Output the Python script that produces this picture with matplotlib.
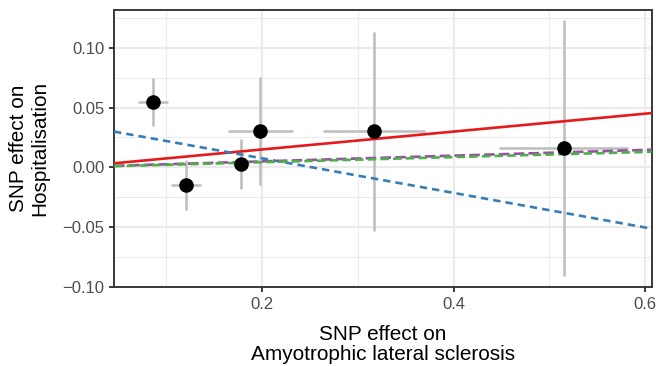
import matplotlib
matplotlib.use("Agg")
import matplotlib.pyplot as plt
from matplotlib.ticker import MultipleLocator

# SNP effects (exposure: ALS, outcome: hospitalisation)
bx = [0.086, 0.121, 0.178, 0.198, 0.317, 0.515]
bx_se = [0.0157, 0.0157, 0.008, 0.034, 0.053, 0.0675]
by = [0.0546, -0.0149, 0.0028, 0.0303, 0.0300, 0.0162]
by_se = [0.0203, 0.021, 0.0213, 0.0452, 0.0832, 0.107]

# MR method fits: intercept, slope, colour, dash pattern
methods = ["IVW", "MR Egger", "Weighted median", "Weighted mode"]
intercepts = [0.0, 0.0365, 0.0002, 0.0]
slopes = [0.0748, -0.1446, 0.024, 0.0215]
colors = ["#E41A1C", "#377EB8", "#984EA3", "#4DAF4A"]
dashes = [None, (2.8, 1.9), (4.0, 1.6), (3.2, 1.6)]

plt.rcParams["font.family"] = ["Liberation Sans", "DejaVu Sans"]

dpi = 136
fig = plt.figure(figsize=(656 / dpi, 366 / dpi), dpi=dpi)
ax = fig.add_axes([114 / 656, 1 - 287.3 / 366, 537.7 / 656, 277.3 / 366])

ax.errorbar(bx, by, xerr=bx_se, yerr=by_se, fmt="none", ecolor="#BEBEBE",
            elinewidth=1.35, capsize=0, zorder=2)

for b0, b1, c, d in zip(intercepts, slopes, colors, dashes):
    ln = ax.axline((0, b0), slope=b1, color=c, lw=1.4, zorder=3)
    if d is not None:
        ln.set_dashes(d)

ax.plot(bx, by, "o", color="black", markersize=6.7, zorder=4)

ax.set_xlim(0.0454, 0.607)
ax.set_ylim(-0.1003, 0.1316)

ax.xaxis.set_minor_locator(MultipleLocator(0.1))
ax.yaxis.set_minor_locator(MultipleLocator(0.025))
ax.set_xticks([0.2, 0.4, 0.6])
ax.set_xticklabels(["0.2", "0.4", "0.6"])
ax.set_yticks([-0.10, -0.05, 0.0, 0.05, 0.10])
ax.set_yticklabels(["\u22120.10", "\u22120.05", "0.00", "0.05", "0.10"])

ax.grid(which="major", color="#EBEBEB", lw=1.07)
ax.grid(which="minor", color="#EBEBEB", lw=0.53)
ax.set_axisbelow(True)

for s in ax.spines.values():
    s.set_color("#333333")
    s.set_linewidth(1.0)
ax.tick_params(which="major", length=2.75, width=1.0, color="#333333",
               labelsize=8.8, labelcolor="#4D4D4D", pad=2.2)
ax.tick_params(which="minor", length=0)

ax.set_xlabel("SNP effect on\nAmyotrophic lateral sclerosis", fontsize=11,
              va="center", linespacing=1.1)
ax.xaxis.set_label_coords(0.5, -0.207)
ax.set_ylabel("SNP effect on\nHospitalisation", fontsize=11,
              va="center", linespacing=1.1)
ax.yaxis.set_label_coords(-0.158, 0.5)

fig.savefig("out.png", dpi=dpi)
